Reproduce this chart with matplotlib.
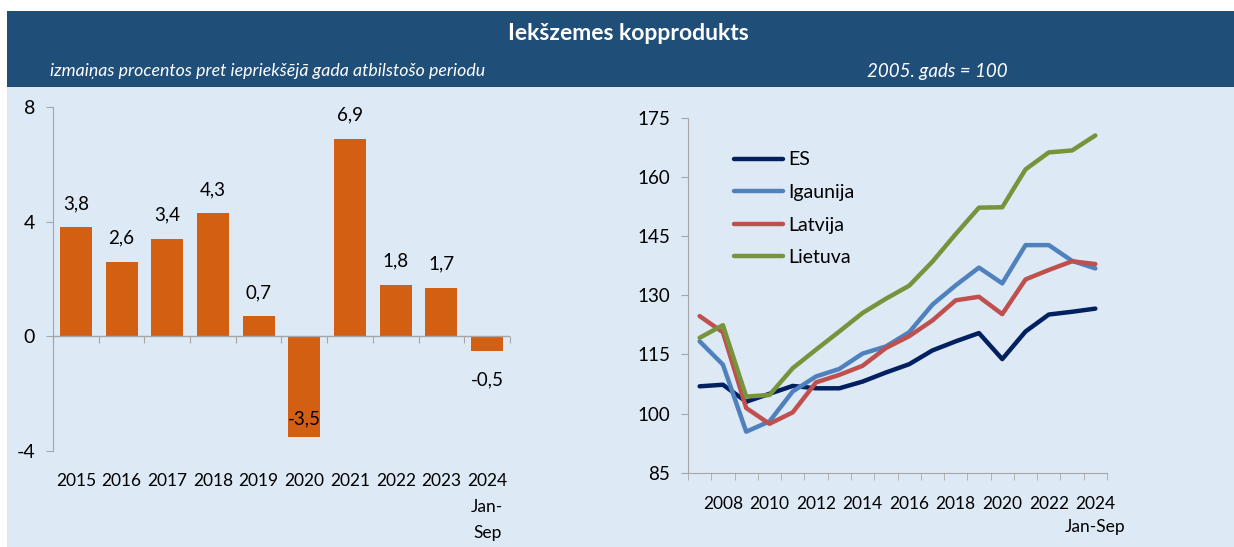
import numpy as np
import matplotlib.pyplot as plt
import matplotlib.patches as patches

# Left panel: GDP change, % vs same period previous year
bar_years = ['2015', '2016', '2017', '2018', '2019', '2020', '2021', '2022', '2023', '2024\nJan-\nSep']
bar_vals = [3.8, 2.6, 3.4, 4.3, 0.7, -3.5, 6.9, 1.8, 1.7, -0.5]

# Right panel: index 2005 = 100
line_years = list(range(2007, 2025))
es = [106.9, 107.3, 103.0, 105.0, 107.0, 106.4, 106.4, 108.1, 110.4, 112.5,
      116.0, 118.3, 120.4, 113.8, 120.8, 125.1, 125.8, 126.6]
igaunija = [118.3, 112.4, 95.4, 98.0, 105.6, 109.4, 111.3, 115.2, 117.0, 120.6,
            127.6, 132.5, 137.0, 133.0, 142.7, 142.7, 138.7, 136.8]
latvija = [124.7, 120.6, 101.4, 97.4, 100.3, 107.9, 109.8, 112.1, 116.6, 119.6,
           123.6, 128.7, 129.6, 125.2, 134.0, 136.4, 138.6, 137.9]
lietuva = [119.2, 122.4, 104.3, 104.7, 111.5, 116.2, 120.8, 125.5, 129.1, 132.4,
           138.5, 145.5, 152.2, 152.3, 161.9, 166.2, 166.7, 170.5]

plt.rcParams['font.family'] = ['Lato', 'DejaVu Sans']
plt.rcParams['axes.unicode_minus'] = False

HEAD = '#1F4E79'
PANEL = '#DDE9F5'
BAR = '#D35F13'
AXC = '#A6A6A6'
W, H = 1234, 547
FS = 12.5

fig = plt.figure(figsize=(W / 100, H / 100), dpi=100)
fig.patch.set_facecolor('white')
fig.patches.append(patches.Rectangle((7 / W, 0), 1 - 7 / W, (H - 87) / H,
                                     transform=fig.transFigure, facecolor=PANEL,
                                     edgecolor='none', zorder=-10))
fig.patches.append(patches.Rectangle((7 / W, (H - 87) / H), 1 - 7 / W, 76 / H,
                                     transform=fig.transFigure, facecolor=HEAD,
                                     edgecolor='none', zorder=-10))
fig.text(628 / W, 1 - 33 / H, 'Iekšzemes kopprodukts', color='white', fontsize=16.5,
         fontweight='bold', ha='center', va='center')
fig.text(268 / W, 1 - 71 / H, 'izmaiņas procentos pret iepriekšējā gada atbilstošo periodu',
         color='white', fontsize=12.8, style='italic', ha='center', va='center')
fig.text(937 / W, 1 - 71 / H, '2005. gads = 100', color='white', fontsize=13.5,
         style='italic', ha='center', va='center')

# ---- left: bars
ax1 = fig.add_axes([53 / W, 96 / H, 457 / W, 344 / H])
ax1.set_facecolor('none')
x = np.arange(len(bar_vals))
ax1.bar(x, bar_vals, width=0.7, color=BAR, zorder=2)
ax1.set_xlim(-0.5, len(bar_vals) - 0.5)
ax1.set_ylim(-4, 8)
ax1.set_yticks([-4, 0, 4, 8])
ax1.set_xticks(x)
ax1.set_xticklabels(bar_years, linespacing=1.75, va='top')
ax1.tick_params(axis='x', length=0, pad=16, labelsize=FS)
ax1.tick_params(axis='y', length=5, color=AXC, pad=8, labelsize=14)
for s in ['top', 'right', 'bottom']:
    ax1.spines[s].set_visible(False)
ax1.spines['left'].set_color(AXC)
ax1.axhline(0, color=AXC, lw=1, zorder=3)
zero_ax = ax1.secondary_xaxis(1 / 3)
zero_ax.set_xticks(np.arange(-0.5, len(bar_vals)))
zero_ax.set_xticklabels([])
zero_ax.tick_params(length=5, color=AXC, direction='out')
zero_ax.spines['bottom'].set_visible(False)
zero_ax.spines['top'].set_visible(False)

for xi, v in zip(x, bar_vals):
    txt = f'{v:.1f}'.replace('.', ',')
    if v >= 0:
        off = 17
    elif v < -3:
        off = 13
    else:
        off = -21
    ax1.annotate(txt, (xi, v), xytext=(0, off), textcoords='offset points',
                 ha='center', va='center', fontsize=13.5, color='black', zorder=4)

# ---- right: lines
ax2 = fig.add_axes([688 / W, 74.3 / H, 419 / W, 355 / H])
ax2.set_facecolor('none')
xi = np.arange(len(line_years))
series = [('ES', es, '#002060'), ('Igaunija', igaunija, '#4F81BD'),
          ('Latvija', latvija, '#C0504D'), ('Lietuva', lietuva, '#77933C')]
for name, vals, col in series:
    ax2.plot(xi, vals, color=col, lw=3.2, label=name, solid_capstyle='round',
             solid_joinstyle='round')
ax2.set_xlim(-0.5, len(line_years) - 0.5)
ax2.set_ylim(85, 175)
ax2.set_yticks(range(85, 176, 15))
lab_idx = [i for i, y in enumerate(line_years) if y % 2 == 0]
ax2.set_xticks(lab_idx)
ax2.set_xticklabels([str(line_years[i]) if line_years[i] != 2024 else '2024\nJan-Sep'
                     for i in lab_idx], linespacing=1.5, va='top')
ax2.set_xticks(np.arange(-0.5, len(line_years)), minor=True)
ax2.tick_params(axis='x', which='major', length=0, pad=17, labelsize=FS)
ax2.tick_params(axis='x', which='minor', length=5, color=AXC)
ax2.tick_params(axis='y', length=5, color=AXC, pad=8, labelsize=13.5)
for s in ['top', 'right']:
    ax2.spines[s].set_visible(False)
ax2.spines['left'].set_color(AXC)
ax2.spines['bottom'].set_color(AXC)

ax2.legend(loc='upper left', bbox_to_anchor=(0.11, 0.905), frameon=False,
           fontsize=14, handlelength=2.5, handletextpad=0.3, labelspacing=0.8,
           borderpad=0, borderaxespad=0)

fig.savefig('out.png', dpi=100)
